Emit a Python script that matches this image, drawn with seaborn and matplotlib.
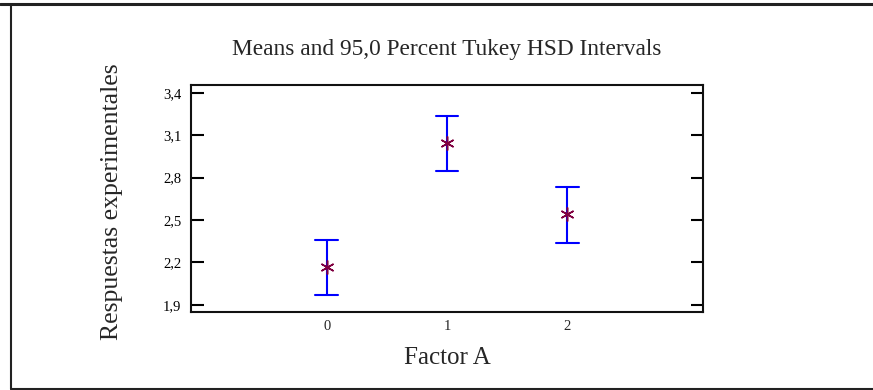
import matplotlib
matplotlib.use("Agg")
import matplotlib.pyplot as plt
from matplotlib.lines import Line2D
import seaborn as sns
import pandas as pd

# Data
groups = ["0", "1", "2"]
means = [2.165, 3.043, 2.544]
lower = [1.972, 2.847, 2.337]
upper = [2.360, 3.238, 2.737]
yticks = [1.9, 2.2, 2.5, 2.8, 3.1, 3.4]
ytick_labels = ["1,9", "2,2", "2,5", "2,8", "3,1", "3,4"]

title = "Means and 95,0 Percent Tukey HSD Intervals"
xlabel = "Factor A"
ylabel = "Respuestas experimentales"

rows = []
for g, lo, m, hi in zip(groups, lower, means, upper):
    for v in (lo, m, hi):
        rows.append({"Factor A": g, "y": v})
df = pd.DataFrame(rows)

sns.set_style("white")
plt.rcParams["font.family"] = ["Liberation Serif", "DejaVu Serif"]

fig = plt.figure(figsize=(8.73, 3.9), dpi=100)
ax = fig.add_axes([191 / 873, 1 - 312 / 390, (703 - 191) / 873, (312 - 85) / 390])

sns.pointplot(
    data=df, x="Factor A", y="y", order=groups,
    estimator="median", errorbar=("pi", 100),
    linestyle="none", marker=(6, 2, 0), markersize=10,
    color="#800040", capsize=0.19,
    err_kws={"color": "#0000FF", "linewidth": 1.5},
    ax=ax,
)
for ln in ax.lines:
    if ln.get_marker() not in (None, "None", "", " "):
        ln.set_markeredgewidth(1.1)
        ln.set_zorder(5)

ax.set_xlim(-1.128, 3.128)
ax.set_ylim(1.85, 3.455)
ax.set_yticks(yticks)
ax.set_yticklabels(ytick_labels)
ax.tick_params(axis="y", which="both", direction="in", length=9, width=1.5,
               left=True, right=True, labelsize=10.5, pad=7, colors="black")
ax.tick_params(axis="x", length=0, labelsize=10.5, pad=6)
for s in ax.spines.values():
    s.set_visible(True)
    s.set_linewidth(1.5)
    s.set_color("#111111")

ax.set_xlabel("")
ax.set_ylabel("")
fig.text(447 / 873, 1 - 49 / 390, title, ha="center", va="center", fontsize=16.8)
fig.text(447 / 873, 1 - 358 / 390, xlabel, ha="center", va="center", fontsize=18)
fig.text(112 / 873, 1 - 202 / 390, ylabel, ha="center", va="center",
         rotation=90, fontsize=18.5)

# outer frame (top, left, bottom)
fig.add_artist(Line2D([0, 1], [1 - 3.5 / 390] * 2, transform=fig.transFigure,
                      color="#222222", linewidth=2.2))
fig.add_artist(Line2D([11 / 873] * 2, [1 - 3.5 / 390, 1 - 388.5 / 390],
                      transform=fig.transFigure, color="#222222", linewidth=1.5))
fig.add_artist(Line2D([11 / 873, 1], [1 - 388.5 / 390] * 2,
                      transform=fig.transFigure, color="#222222", linewidth=1.5))

fig.savefig("out.png", dpi=100)
